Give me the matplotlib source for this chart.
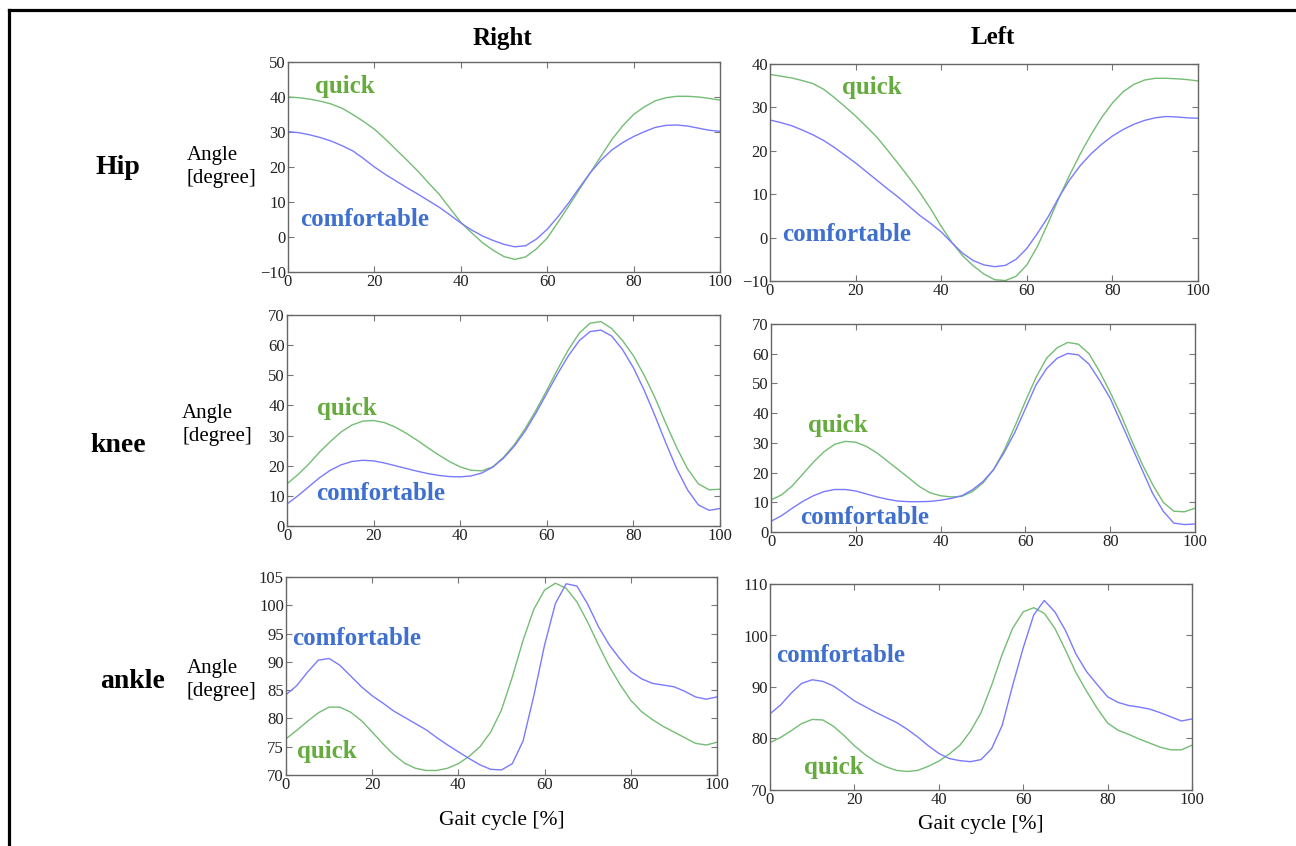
import numpy as np
import matplotlib
matplotlib.use("Agg")
import matplotlib.pyplot as plt
from matplotlib.lines import Line2D

plt.rcParams['font.family'] = ['Liberation Serif', 'DejaVu Serif']

# gait cycle sample positions [%]
gait_pct = [0, 2.5, 5, 7.5, 10, 12.5, 15, 17.5, 20, 22.5, 25, 27.5, 30, 32.5,
            35, 37.5, 40, 42.5, 45, 47.5, 50, 52.5, 55, 57.5, 60, 62.5, 65,
            67.5, 70, 72.5, 75, 77.5, 80, 82.5, 85, 87.5, 90, 92.5, 95, 97.5, 100]

# joint angles [degree]
hip_r_quick = [40.0, 39.8, 39.4, 38.8, 38.0, 36.8, 35.0, 33.0, 30.8, 28.0, 25.0,
               22.0, 18.9, 15.5, 12.2, 8.2, 4.2, 1.2, -1.6, -3.8, -5.6, -6.4,
               -5.7, -3.4, -0.3, 4.2, 8.9, 13.7, 18.4, 23.2, 27.9, 31.8, 35.0,
               37.2, 38.9, 39.8, 40.2, 40.2, 40.0, 39.6, 39.1]
hip_r_comf = [30.1, 29.8, 29.2, 28.4, 27.4, 26.1, 24.6, 22.4, 20.0, 17.9, 16.0,
              14.1, 12.3, 10.4, 8.5, 6.3, 4.0, 2.0, 0.3, -1.0, -2.1, -2.8,
              -2.5, -0.6, 2.2, 5.8, 9.8, 14.2, 18.4, 22.0, 24.9, 27.0, 28.7,
              30.1, 31.3, 31.9, 32.0, 31.7, 31.1, 30.5, 30.2]
hip_l_quick = [37.6, 37.2, 36.8, 36.2, 35.5, 34.2, 32.3, 30.2, 28.0, 25.6, 23.1,
               20.1, 17.0, 13.8, 10.4, 6.7, 2.6, -1.1, -4.2, -6.5, -8.4, -9.7,
               -9.9, -8.9, -6.3, -2.0, 3.4, 9.1, 14.4, 19.3, 23.7, 27.7, 31.0,
               33.6, 35.3, 36.3, 36.7, 36.7, 36.6, 36.4, 36.1]
hip_l_comf = [27.1, 26.5, 25.8, 24.8, 23.7, 22.4, 20.8, 19.0, 17.2, 15.2, 13.2,
              11.2, 9.3, 7.2, 5.1, 3.3, 1.3, -1.2, -3.6, -5.3, -6.3, -6.7,
              -6.4, -5.0, -2.5, 1.0, 4.8, 9.3, 13.3, 16.6, 19.3, 21.5, 23.4,
              24.9, 26.1, 27.0, 27.6, 27.9, 27.8, 27.6, 27.5]
knee_r_quick = [14.0, 17.0, 20.5, 24.5, 28.0, 31.2, 33.5, 34.8, 35.0, 34.3, 32.8,
                30.8, 28.5, 26.0, 23.6, 21.4, 19.6, 18.5, 18.3, 19.6, 22.8, 27.0,
                32.3, 38.4, 45.0, 52.0, 58.5, 64.0, 67.3, 67.8, 65.5, 61.5, 56.5,
                50.0, 42.5, 34.0, 26.0, 19.0, 14.0, 12.0, 12.2]
knee_r_comf = [7.3, 10.0, 13.0, 16.0, 18.5, 20.3, 21.4, 21.8, 21.6, 20.9, 20.0,
               19.1, 18.2, 17.4, 16.8, 16.4, 16.3, 16.6, 17.6, 19.5, 22.5, 26.5,
               31.5, 37.5, 44.0, 50.5, 56.5, 61.5, 64.5, 65.0, 63.0, 58.5, 52.5,
               45.0, 36.5, 27.5, 19.0, 12.0, 7.0, 5.2, 5.8]
knee_l_quick = [10.8, 12.5, 15.5, 19.5, 23.5, 27.0, 29.5, 30.5, 30.2, 28.8, 26.6,
                23.8, 21.0, 18.2, 15.3, 13.2, 12.2, 11.8, 12.0, 13.6, 16.5, 21.0,
                27.5, 35.5, 44.0, 52.0, 58.5, 62.0, 63.8, 63.2, 60.0, 54.0, 47.0,
                39.5, 31.0, 23.0, 16.0, 10.0, 7.0, 6.8, 8.0]
knee_l_comf = [3.6, 5.5, 8.0, 10.3, 12.2, 13.6, 14.3, 14.3, 13.8, 12.8, 11.8,
               11.0, 10.4, 10.2, 10.2, 10.3, 10.7, 11.3, 12.2, 14.2, 17.0, 21.0,
               26.8, 33.5, 41.5, 49.5, 55.0, 58.5, 60.1, 59.6, 56.5, 51.0, 45.0,
               37.0, 29.0, 21.0, 13.0, 7.0, 3.0, 2.5, 2.7]
ankle_r_quick = [76.4, 77.9, 79.5, 81.0, 82.0, 82.0, 81.1, 79.6, 77.6, 75.5, 73.6,
                 72.1, 71.2, 70.8, 70.8, 71.2, 72.0, 73.3, 75.0, 77.6, 81.5, 87.3,
                 93.8, 99.3, 102.7, 103.9, 103.0, 100.6, 97.0, 93.0, 89.2, 86.0,
                 83.2, 81.2, 79.8, 78.6, 77.6, 76.6, 75.6, 75.3, 75.8]
ankle_r_comf = [84.2, 85.8, 88.2, 90.3, 90.6, 89.4, 87.5, 85.6, 84.0, 82.7, 81.3,
                80.2, 79.1, 78.0, 76.6, 75.3, 74.1, 72.9, 71.8, 71.0, 70.9, 72.0,
                76.0, 84.0, 93.0, 100.3, 103.8, 103.4, 100.2, 96.2, 93.0, 90.5,
                88.3, 87.0, 86.2, 85.9, 85.6, 84.8, 83.8, 83.4, 83.8]
ankle_l_quick = [79.2, 80.2, 81.5, 82.9, 83.7, 83.6, 82.4, 80.6, 78.6, 76.9, 75.5,
                 74.5, 73.8, 73.6, 73.8, 74.6, 75.6, 77.0, 78.7, 81.4, 85.0, 90.3,
                 96.3, 101.4, 104.6, 105.4, 104.3, 101.4, 97.2, 92.8, 89.2, 85.9,
                 83.0, 81.6, 80.8, 79.9, 79.1, 78.3, 77.8, 77.8, 78.7]
ankle_l_comf = [84.8, 86.5, 88.8, 90.7, 91.4, 91.1, 90.2, 88.8, 87.3, 86.2, 85.1,
                84.1, 83.1, 81.8, 80.3, 78.6, 77.1, 76.1, 75.7, 75.5, 75.9, 78.0,
                82.5, 90.3, 97.6, 104.0, 106.8, 104.6, 101.0, 96.4, 93.0, 90.5,
                88.1, 87.0, 86.4, 86.1, 85.7, 85.0, 84.2, 83.4, 83.8]

W, H = 1296, 846
GREEN_LINE = '#74bd74'
BLUE_LINE = '#7a7aff'
GREEN_TXT = '#66ab3e'
BLUE_TXT = '#3f6fcf'


def box(x0, y0, x1, y1):
    # pixel box -> figure fraction
    return [x0 / W, 1 - y1 / H, (x1 - x0) / W, (y1 - y0) / H]


panels = [
    # (box, quick, comf, ylim, yticks, quick label pos, comf label pos, xlabel pad)
    (box(288, 62, 720, 272), hip_r_quick, hip_r_comf, (-10, 50), range(-10, 51, 10),
     (6.2, 43.1), (2.8, 4.9), None),
    (box(770, 64, 1198, 281), hip_l_quick, hip_l_comf, (-10, 40), range(-10, 41, 10),
     (16.8, 34.5), (2.8, 0.6), None),
    (box(287, 315, 720, 526), knee_r_quick, knee_r_comf, (0, 70), range(0, 71, 10),
     (6.9, 39.1), (6.7, 10.9), None),
    (box(771, 324, 1195, 532), knee_l_quick, knee_l_comf, (0, 70), range(0, 71, 10),
     (8.7, 36.0), (6.8, 5.0), None),
    (box(286, 577, 717, 775), ankle_r_quick, ankle_r_comf, (70, 105), range(70, 106, 5),
     (2.6, 74.1), (1.4, 94.2), 13),
    (box(770, 584, 1192, 790), ankle_l_quick, ankle_l_comf, (70, 110), range(70, 111, 10),
     (8.1, 74.3), (1.4, 96.2), 5),
]

fig = plt.figure(figsize=(W / 100, H / 100), dpi=100)

for rect, quick, comf, ylim, yt, qpos, cpos, xpad in panels:
    ax = fig.add_axes(rect)
    ax.plot(gait_pct, quick, color=GREEN_LINE, lw=1.0)
    ax.plot(gait_pct, comf, color=BLUE_LINE, lw=1.0)
    ax.set_xlim(0, 100)
    ax.set_ylim(*ylim)
    ax.set_xticks(range(0, 101, 20))
    ax.set_yticks(list(yt))
    ax.tick_params(direction='in', length=4, width=0.8, color='#777777',
                   top=True, right=True, labelsize=12, labelcolor='#222222', pad=1.5)
    for s in ax.spines.values():
        s.set_color('#666666')
        s.set_linewidth(1.0)
    ax.text(*qpos, 'quick', color=GREEN_TXT, fontsize=18, fontweight='bold',
            ha='left', va='center')
    ax.text(*cpos, 'comfortable', color=BLUE_TXT, fontsize=18, fontweight='bold',
            ha='left', va='center')
    if xpad is not None:
        ax.set_xlabel('Gait cycle [%]', fontsize=15.5, labelpad=xpad)

# column / row headings
fig.text(502 / W, 1 - 38 / H, 'Right', fontsize=18, fontweight='bold', ha='center', va='center')
fig.text(993 / W, 1 - 38 / H, 'Left', fontsize=18, fontweight='bold', ha='center', va='center')
for name, cx, cy in [('Hip', 118, 167), ('knee', 118, 445), ('ankle', 133, 681)]:
    fig.text(cx / W, 1 - cy / H, name, fontsize=20, fontweight='bold', ha='center', va='center')
for lx, cy in [(187, 167), (182, 425), (187, 680)]:
    fig.text(lx / W, 1 - cy / H, 'Angle\n[degree]', fontsize=15, ha='left', va='center',
             linespacing=1.35)

# frame lines (top and left)
fig.add_artist(Line2D([9 / W, 1], [1 - 10 / H, 1 - 10 / H], color='black', lw=2.3,
                      transform=fig.transFigure))
fig.add_artist(Line2D([9 / W, 9 / W], [1 - 10 / H, 0], color='black', lw=2.3,
                      transform=fig.transFigure))

fig.savefig('out.png', dpi=100)
